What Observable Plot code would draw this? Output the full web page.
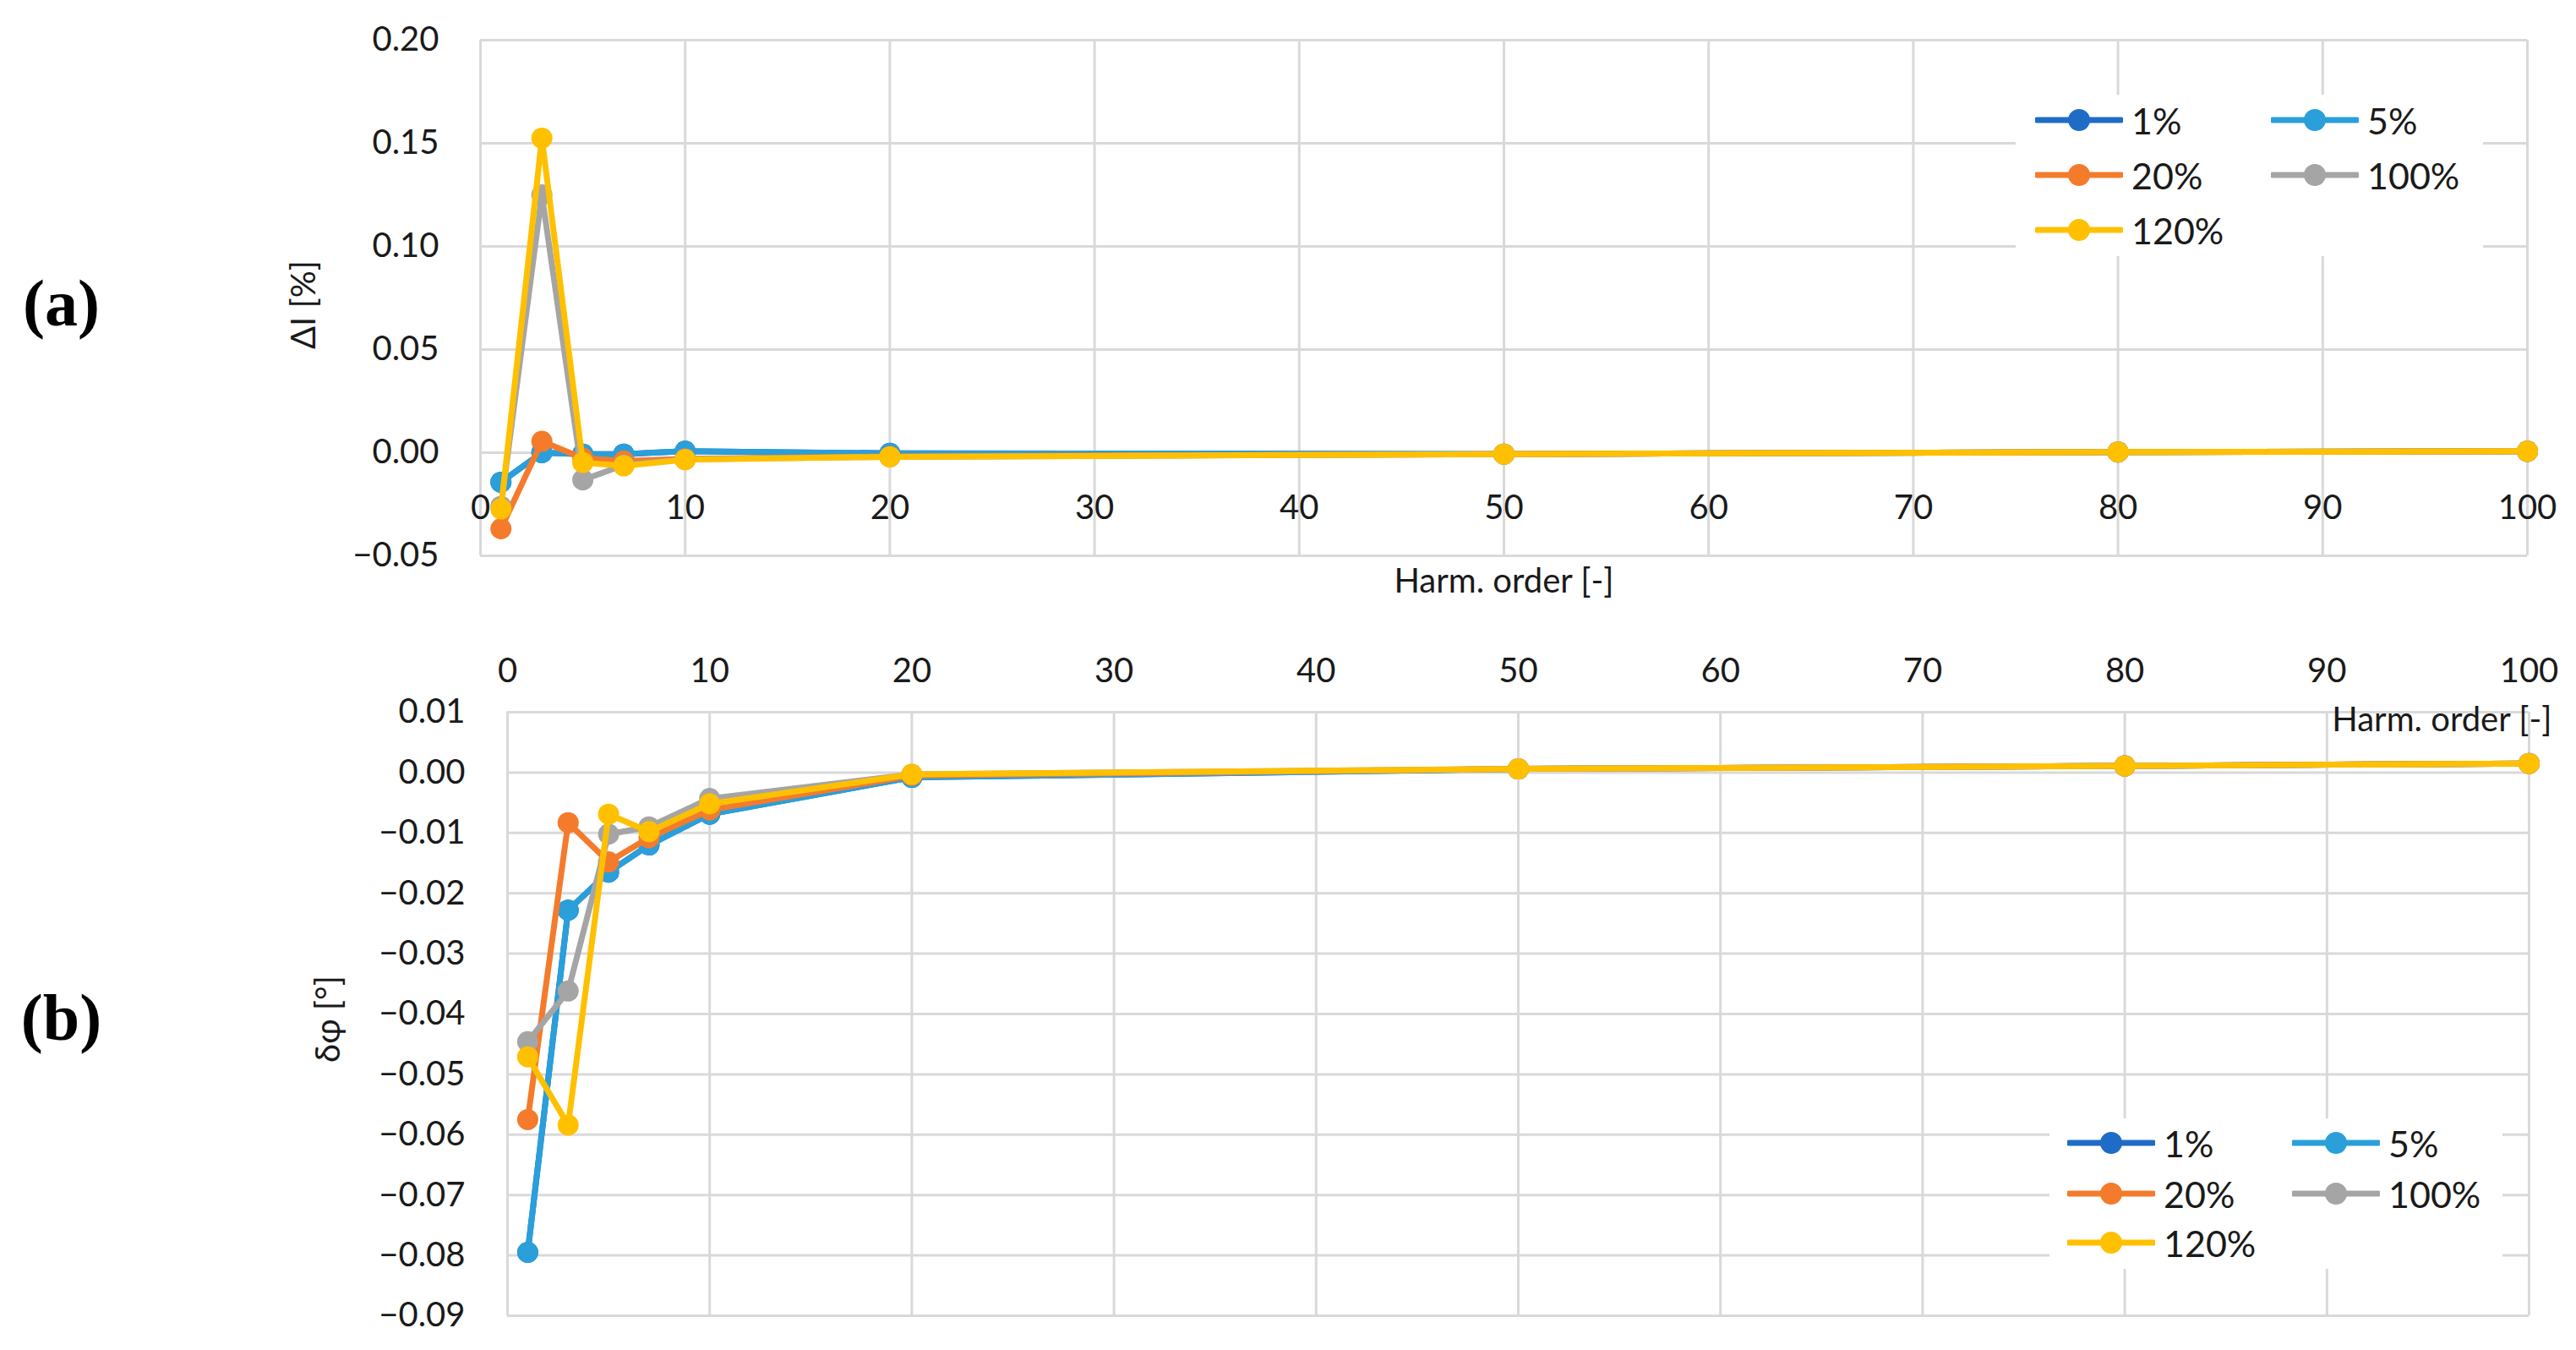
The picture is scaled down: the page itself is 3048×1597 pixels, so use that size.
<!DOCTYPE html>
<html>
<head>
<meta charset="utf-8">
<script src="https://cdn.jsdelivr.net/npm/d3@7"></script>
<script src="https://cdn.jsdelivr.net/npm/@observablehq/plot@0.6"></script>
<style>
  html, body { margin: 0; padding: 0; background: #fff; }
  #wrap { position: relative; width: 3048px; height: 1597px; overflow: hidden; background: #fff; font-family: Lato, "Open Sans", sans-serif; }
  .panel { position: absolute; left: 0; }
  .legend { position: absolute; background: #fff; }
  .litem { position: absolute; display: flex; align-items: center; font-size: 43px; color: #1a1a1a; line-height: 1; }
  .litem svg { display: block; }
</style>
</head>
<body>
<div id="wrap"></div>
<script>
// ---------- data ----------
const harmOrder = [1, 3, 5, 7, 10, 20, 50, 80, 100];
const seriesNames = ["1%", "5%", "20%", "100%", "120%"];
const seriesColors = ["#1f6cc6", "#2a9fda", "#f47b2c", "#a5a5a5", "#ffc000"];

// (a) current error ΔI [%]
const dI_1   = [-0.0143, 0.0000, -0.0007, -0.0007, 0.0007, -0.0003, -0.0007, 0.0003, 0.0007];
const dI_5   = [-0.0143, 0.0000, -0.0007, -0.0007, 0.0007, -0.0003, -0.0007, 0.0003, 0.0007];
const dI_20  = [-0.0369, 0.0055, -0.0027, -0.0040, -0.0030, -0.0018, -0.0007, 0.0003, 0.0007];
const dI_100 = [-0.0260, 0.1250, -0.0132, -0.0060, -0.0032, -0.0020, -0.0007, 0.0003, 0.0007];
const dI_120 = [-0.0273, 0.1525, -0.0048, -0.0064, -0.0034, -0.0020, -0.0007, 0.0003, 0.0007];

// (b) phase error δφ [°]
const dP_1   = [-0.0795, -0.0228, -0.0165, -0.0120, -0.0069, -0.0008, 0.0006, 0.0011, 0.0015];
const dP_5   = [-0.0795, -0.0228, -0.0165, -0.0120, -0.0069, -0.0008, 0.0006, 0.0011, 0.0015];
const dP_20  = [-0.0575, -0.0083, -0.0148, -0.0108, -0.0062, -0.0005, 0.0006, 0.0011, 0.0015];
const dP_100 = [-0.0446, -0.0362, -0.0102, -0.0090, -0.0043, -0.0003, 0.0006, 0.0011, 0.0015];
const dP_120 = [-0.0471, -0.0584, -0.0069, -0.0098, -0.0052, -0.0003, 0.0006, 0.0011, 0.0015];

const xTicks = [0, 10, 20, 30, 40, 50, 60, 70, 80, 90, 100];
const yTicksA = [-0.05, 0, 0.05, 0.10, 0.15, 0.20];
const yTicksB = [-0.09, -0.08, -0.07, -0.06, -0.05, -0.04, -0.03, -0.02, -0.01, 0, 0.01];

const xLabel = "Harm. order [-]";
const yLabelA = "ΔI [%]";
const yLabelB = "δφ [°]";
const panelA = "(a)";
const panelB = "(b)";

// ---------- helpers ----------
const grid = "#d9d9d9";
const txt = "#1a1a1a";
const fmt = d3.format(".2f");

function rowsFor(arrays) {
  return seriesNames.map((s, k) => harmOrder.map((h, i) => ({h, s, v: arrays[k][i]})));
}
function seriesMarks(arrays) {
  const marks = [];
  for (const rows of rowsFor(arrays)) {
    marks.push(Plot.line(rows, {x: "h", y: "v", stroke: "s", strokeWidth: 7, strokeLinejoin: "round", strokeLinecap: "round"}));
    marks.push(Plot.dot(rows, {x: "h", y: "v", fill: "s", r: 12.5, stroke: "none"}));
  }
  return marks;
}

const wrap = document.getElementById("wrap");

// ---------- panel (a) ----------
const chartA = Plot.plot({
  width: 3048,
  height: 760,
  marginTop: 47,
  marginBottom: 103,
  marginLeft: 568,
  marginRight: 58,
  style: {fontFamily: "Lato, 'Open Sans', sans-serif", fontSize: "40px", color: txt, background: "#fff"},
  x: {domain: [0, 100], axis: null, label: null},
  y: {domain: [-0.05, 0.20], axis: null, label: null},
  color: {domain: seriesNames, range: seriesColors},
  marks: [
    Plot.gridX(xTicks, {stroke: grid, strokeOpacity: 1, strokeWidth: 3}),
    Plot.gridY(yTicksA, {stroke: grid, strokeOpacity: 1, strokeWidth: 3}),
    Plot.axisY(yTicksA, {tickSize: 0, tickPadding: 49, tickFormat: fmt, fontSize: 40, fill: txt, label: null}),
    Plot.text(xTicks, {x: d => d, y: () => 0, dy: 66, text: d => String(d), fontSize: 40, fill: txt}),
    Plot.text([xLabel], {frameAnchor: "bottom", dy: 43, textAnchor: "middle", text: d => d, fontSize: 40, fill: txt}),
    Plot.text([yLabelA], {frameAnchor: "left", dx: -208, dy: 8, rotate: -90, textAnchor: "middle", text: d => d, fontSize: 40, fill: txt}),
    Plot.text([panelA], {frameAnchor: "left", dx: -496, dy: 8, textAnchor: "middle", text: d => d, fontFamily: "'Liberation Serif', 'DejaVu Serif', serif", fontWeight: "bold", fontSize: 78, fill: "#000"}),
    ...seriesMarks([dI_1, dI_5, dI_20, dI_100, dI_120])
  ]
});
chartA.classList.add("panel");
chartA.style.top = "0px";
wrap.appendChild(chartA);

// ---------- panel (b) ----------
const chartB = Plot.plot({
  width: 3048,
  height: 837,
  marginTop: 82,
  marginBottom: 41,
  marginLeft: 600,
  marginRight: 56,
  style: {fontFamily: "Lato, 'Open Sans', sans-serif", fontSize: "40px", color: txt, background: "#fff"},
  x: {domain: [0, 100], axis: null, label: null},
  y: {domain: [-0.09, 0.01], axis: null, label: null},
  color: {domain: seriesNames, range: seriesColors},
  marks: [
    Plot.gridX(xTicks, {stroke: grid, strokeOpacity: 1, strokeWidth: 3}),
    Plot.gridY(yTicksB, {stroke: grid, strokeOpacity: 1, strokeWidth: 3}),
    Plot.axisY(yTicksB, {tickSize: 0, tickPadding: 50, tickFormat: fmt, fontSize: 40, fill: txt, label: null}),
    Plot.text(xTicks, {x: d => d, frameAnchor: "top", dy: -64, text: d => String(d), fontSize: 40, fill: txt}),
    ...seriesMarks([dP_1, dP_5, dP_20, dP_100, dP_120]),
    Plot.text([xLabel], {frameAnchor: "top-right", dx: 27, dy: -6, textAnchor: "end", text: d => d, fontSize: 40, fill: txt}),
    Plot.text([yLabelB], {frameAnchor: "left", dx: -211, dy: 6, rotate: -90, textAnchor: "middle", text: d => d, fontSize: 40, fill: txt}),
    Plot.text([panelB], {frameAnchor: "left", dx: -528, dy: 6, textAnchor: "middle", text: d => d, fontFamily: "'Liberation Serif', 'DejaVu Serif', serif", fontWeight: "bold", fontSize: 78, fill: "#000"})
  ]
});
chartB.classList.add("panel");
chartB.style.top = "760px";
wrap.appendChild(chartB);

// ---------- legends (HTML, above the SVGs) ----------
function makeLegend(box, rowYs, col1, col2) {
  const lg = document.createElement("div");
  lg.className = "legend";
  Object.assign(lg.style, {left: box.left + "px", top: box.top + "px", width: box.width + "px", height: box.height + "px"});
  seriesNames.forEach((name, i) => {
    const row = Math.floor(i / 2), col = i % 2;
    const item = document.createElement("div");
    item.className = "litem";
    item.style.left = (col === 0 ? col1 : col2) + "px";
    item.style.top = (rowYs[row] - 22) + "px";
    item.style.height = "44px";
    const c = seriesColors[i];
    item.innerHTML = `<svg width="104" height="44"><line x1="2" x2="102" y1="22" y2="22" stroke="${c}" stroke-width="7" stroke-linecap="round"/><circle cx="52" cy="22" r="13" fill="${c}"/></svg><span style="margin-left:10px">${name}</span>`;
    lg.appendChild(item);
  });
  wrap.appendChild(lg);
}
makeLegend({left: 2385, top: 112, width: 553, height: 191}, [30, 95, 160], 23, 302);
makeLegend({left: 2425, top: 1323, width: 536, height: 178}, [29, 89, 147], 21, 287);
</script>
</body>
</html>
